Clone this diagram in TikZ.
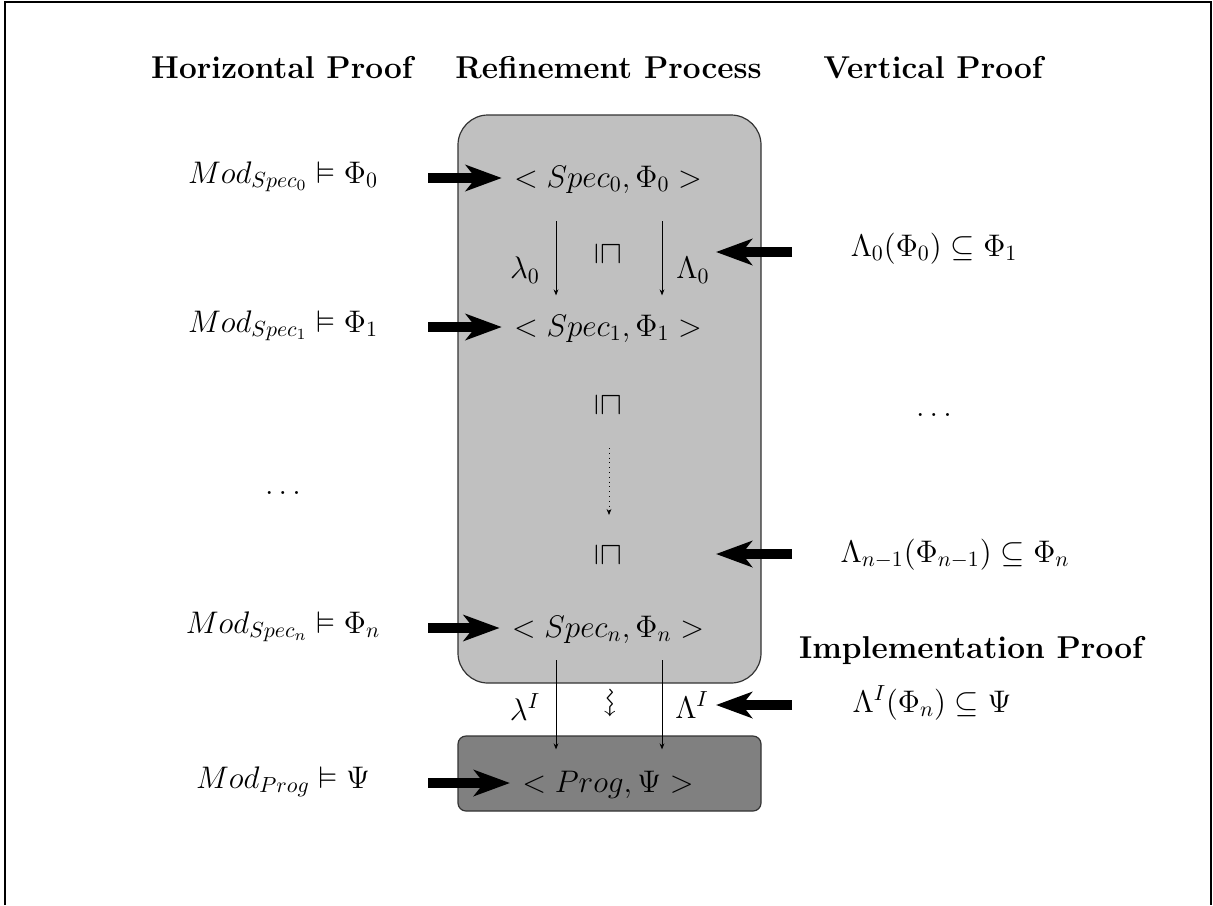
\RequirePackage{fix-cm}
\documentclass[tikz,border=0pt]{standalone}
\usepackage{amsmath,amssymb}
\usetikzlibrary{arrows.meta,calc}
\definecolor{lightbox}{HTML}{C0C0C0}
\definecolor{darkbox}{HTML}{808080}
\begin{document}
\begin{tikzpicture}[x=0.5pt,y=-0.5pt,inner sep=0pt,
  fatarrow/.style={line width=5pt,-{Stealth[length=18pt,width=13pt,inset=5pt]}},
  thinarrow/.style={line width=0.4pt,-{Stealth[length=3pt,width=2.4pt]}},
  dotarrow/.style={line width=0.4pt,dotted,-{Stealth[length=3pt,width=2.4pt]}},
  hdr/.style={font=\fontsize{15.8}{19}\selectfont\bfseries},
  txt/.style={font=\fontsize{15.6}{19}\selectfont,anchor=base},
  sym/.style={font=\fontsize{15.6}{19}\selectfont},
  refbox/.style={draw=black!80,line width=0.6pt,fill=lightbox,rounded corners=15pt},
  progbox/.style={draw=black!80,line width=0.6pt,fill=darkbox,rounded corners=4pt}]
\useasboundingbox (0,0) rectangle (1213,905);
\draw[line width=0.8pt] (5,905) -- (5,2) -- (1211,2) -- (1211,905);

% headers
\node[hdr] (h1) at (282,68) {Horizontal Proof};
\node[hdr] (h2) at (608.5,68) {Refinement Process};
\node[hdr] (h3) at (933,68) {Vertical Proof};
\node[hdr] (h4) at (971,650) {Implementation Proof};

% boxes
\node[refbox,minimum width=151.5pt,minimum height=284pt] (rb) at (609.5,399) {};
\node[progbox,minimum width=151.5pt,minimum height=37.5pt] (pb) at (609.5,773.5) {};

% centre column
\node[txt] (s0) at (608,187) {$<Spec_0,\Phi_0>$};
\node[txt] (s1) at (608,336) {$<Spec_1,\Phi_1>$};
\node[txt] (sn) at (608,637) {$<Spec_n,\Phi_n>$};
\node[txt] (pg) at (608,792) {$<Prog,\Psi>$};

\node[sym] (r1) at (608,254) {\rotatebox{-90}{$\sqsubseteq$}};
\node[sym] (r2) at (608,405) {\rotatebox{-90}{$\sqsubseteq$}};
\node[sym] (r3) at (608,555) {\rotatebox{-90}{$\sqsubseteq$}};
\node[sym] (sq) at (608,703) {\rotatebox{-90}{$\rightsquigarrow$}};

\node[sym] (l0) at (525,270) {$\lambda_0$};
\node[sym] (L0) at (693,270) {$\Lambda_0$};
\node[sym] (lI) at (525,707) {$\lambda^I$};
\node[sym] (LI) at (692,705) {$\Lambda^I$};

\draw[thinarrow] ($(s0)+(-52,42)$) -- ($(s1)+(-52,-33)$);
\draw[thinarrow] ($(s0)+(54,42)$) -- ($(s1)+(54,-33)$);
\draw[dotarrow] ($(r2)+(1,43)$) -- ($(r3)+(1,-40)$);
\draw[thinarrow] ($(sn)+(-52,31)$) -- ($(pg)+(-52,-35)$);
\draw[thinarrow] ($(sn)+(54,31)$) -- ($(pg)+(54,-35)$);

% left column
\node[txt] (m0) at (283,183) {$Mod_{Spec_0}\vDash\Phi_0$};
\node[txt] (m1) at (283,332) {$Mod_{Spec_1}\vDash\Phi_1$};
\node[txt] (md) at (283,494) {$\ldots$};
\node[txt] (mn) at (283,633) {$Mod_{Spec_n}\vDash\Phi_n$};
\node[txt] (mp) at (283,788) {$Mod_{Prog}\vDash\Psi$};

\coordinate (a0) at (428,178);
\coordinate (a1) at (428,327);
\coordinate (an) at (428,628);
\coordinate (ap) at (428,783);
\draw[fatarrow] (a0) -- ($(s0.base west)+(-12,-9)$);
\draw[fatarrow] (a1) -- ($(s1.base west)+(-12,-9)$);
\draw[fatarrow] (an) -- ($(sn.base west)+(-12,-9)$);
\draw[fatarrow] (ap) -- ($(pg.base west)+(-12,-9)$);

% right column
\node[txt] (v0) at (934,256) {$\Lambda_0(\Phi_0)\subseteq\Phi_1$};
\node[txt] (vd) at (934,416) {$\ldots$};
\node[txt] (vn) at (955,562) {$\Lambda_{n-1}(\Phi_{n-1})\subseteq\Phi_n$};
\node[txt] (vI) at (932,712) {$\Lambda^I(\Phi_n)\subseteq\Psi$};

\coordinate (b0) at (792,252);
\coordinate (bn) at (792,554);
\coordinate (bI) at (792,705);
\coordinate (t0) at (716,252);
\coordinate (tn) at (716,554);
\coordinate (tI) at (716,705);
\draw[fatarrow] (b0) -- (t0);
\draw[fatarrow] (bn) -- (tn);
\draw[fatarrow] (bI) -- (tI);
\end{tikzpicture}
\end{document}
